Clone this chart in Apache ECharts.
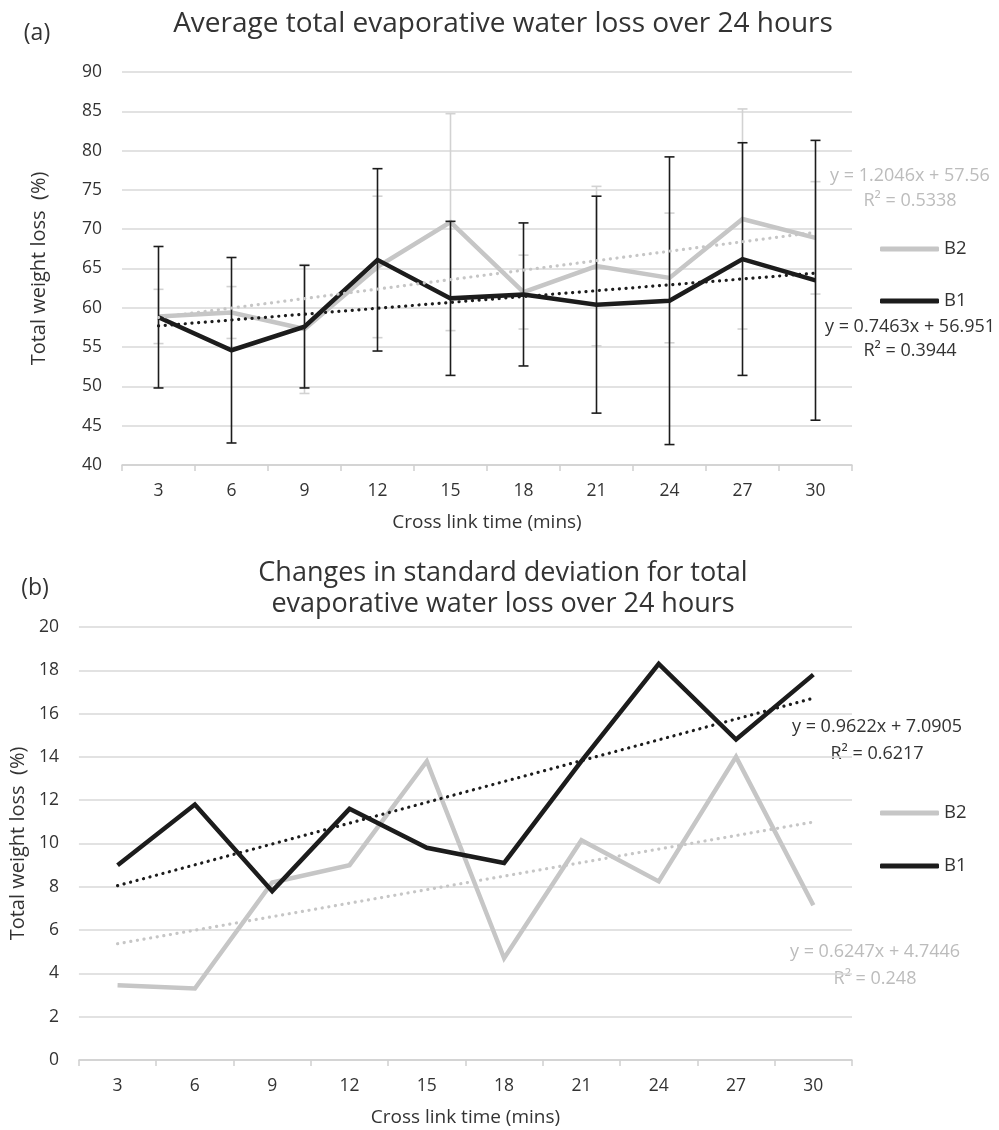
<!DOCTYPE html>
<html>
<head>
<meta charset="utf-8">
<title>Evaporative water loss</title>
<script src="https://cdn.jsdelivr.net/npm/echarts@6/dist/echarts.min.js"></script>
<style>
  html, body { margin: 0; padding: 0; background: #ffffff; }
  #chart { width: 999px; height: 1130px; }
</style>
</head>
<body>
<div id="chart"></div>
<script>
// Cross-link times (minutes)
const categories = ['3', '6', '9', '12', '15', '18', '21', '24', '27', '30'];

// (a) mean total weight loss (%) after 24 h
const meanB1 = [58.8, 54.6, 57.6, 66.1, 61.2, 61.7, 60.4, 60.9, 66.2, 63.5];
const meanB2 = [58.9, 59.4, 57.3, 65.2, 70.9, 62.0, 65.3, 63.8, 71.3, 68.9];

// (b) standard deviation of total weight loss (%), also used as error bars in (a)
const sdB1 = [9.0, 11.8, 7.8, 11.6, 9.8, 9.1, 13.8, 18.3, 14.8, 17.8];
const sdB2 = [3.45, 3.3, 8.2, 9.0, 13.8, 4.7, 10.15, 8.25, 14.0, 7.15];

// Linear trendlines: [slope, intercept, R²], x = point number 1..10
const fitMeanB1 = [0.7463, 56.951, 0.3944];
const fitMeanB2 = [1.2046, 57.56, 0.5338];
const fitSdB1 = [0.9622, 7.0905, 0.6217];
const fitSdB2 = [0.6247, 4.7446, 0.248];

// Axis ticks: [min, max, interval]
const yTicksA = [40, 90, 5];
const yTicksB = [0, 20, 2];

const FONT = '"Open Sans", "Noto Sans", sans-serif';
const TXT = '#333333';
const GRID_LINE = '#d9d9d9';
const C_B1 = '#1c1c1c';
const C_B2 = '#c6c6c6';
const C_B2_ERR = '#d2d2d2';
const C_B2_TXT = '#bcbcbc';

function trendValues(fit) {
  return categories.map((c, i) => +(fit[0] * (i + 1) + fit[1]).toFixed(4));
}
function equation(fit) {
  return 'y = ' + fit[0] + 'x + ' + fit[1];
}
function rSquared(fit) {
  return 'R\u00b2 = ' + fit[2];
}

function errorBarSeries(name, mean, sd, color, z) {
  return {
    name: name,
    type: 'custom',
    xAxisIndex: 0,
    yAxisIndex: 0,
    z: z,
    silent: true,
    encode: { x: 0, y: [1, 2] },
    data: mean.map((m, i) => [i, m - sd[i], m + sd[i]]),
    renderItem: function (params, api) {
      const idx = api.value(0);
      const hi = api.coord([idx, api.value(2)]);
      const lo = api.coord([idx, api.value(1)]);
      const hw = 5;
      const st = { stroke: color, lineWidth: 1.6 };
      return {
        type: 'group',
        children: [
          { type: 'line', shape: { x1: hi[0], y1: hi[1], x2: lo[0], y2: lo[1] }, style: st },
          { type: 'line', shape: { x1: hi[0] - hw, y1: hi[1], x2: hi[0] + hw, y2: hi[1] }, style: st },
          { type: 'line', shape: { x1: lo[0] - hw, y1: lo[1], x2: lo[0] + hw, y2: lo[1] }, style: st }
        ]
      };
    }
  };
}

function lineSeries(name, data, color, gi, z) {
  return {
    name: name,
    type: 'line',
    xAxisIndex: gi,
    yAxisIndex: gi,
    data: data,
    z: z,
    symbol: 'none',
    lineStyle: { color: color, width: 4.5, join: 'miter' },
    itemStyle: { color: color },
    animation: false
  };
}

function trendSeries(name, fit, color, gi, z) {
  return {
    name: name,
    type: 'line',
    xAxisIndex: gi,
    yAxisIndex: gi,
    data: trendValues(fit),
    z: z,
    symbol: 'none',
    silent: true,
    lineStyle: { color: color, width: 3.2, type: [0.1, 6.6], cap: 'round' },
    animation: false
  };
}

function xAxisDef(gi) {
  return {
    type: 'category',
    gridIndex: gi,
    data: categories,
    boundaryGap: true,
    axisLine: { show: true, lineStyle: { color: '#d0d0d0', width: 1.5 } },
    axisTick: { show: true, length: 6, interval: 0, lineStyle: { color: '#d0d0d0', width: 1.5 } },
    axisLabel: { color: TXT, fontSize: 17.5, fontFamily: FONT, margin: 17, interval: 0 },
    splitLine: { show: false },
    name: 'Cross link time (mins)',
    nameLocation: 'middle',
    nameGap: 48,
    nameTextStyle: { color: TXT, fontSize: 19, fontFamily: FONT }
  };
}

function yAxisDef(gi, ticks, nameGap) {
  return {
    type: 'value',
    gridIndex: gi,
    min: ticks[0],
    max: ticks[1],
    interval: ticks[2],
    axisLine: { show: false },
    axisTick: { show: false },
    axisLabel: { color: TXT, fontSize: 17.5, fontFamily: FONT, margin: 20 },
    splitLine: { show: true, lineStyle: { color: GRID_LINE, width: 1.5 } },
    name: 'Total weight loss  (%)',
    nameLocation: 'middle',
    nameGap: nameGap,
    nameRotate: 90,
    nameTextStyle: { color: TXT, fontSize: 20, fontFamily: FONT }
  };
}

function legendDef(top, gap) {
  return {
    orient: 'vertical',
    left: 875,
    top: top,
    itemGap: gap,
    itemWidth: 59,
    itemHeight: 5,
    icon: 'roundRect',
    selectedMode: false,
    data: ['B2', 'B1'],
    textStyle: { color: TXT, fontSize: 18.5, fontFamily: FONT, lineHeight: 20 }
  };
}

function label(text, x, y, size, color) {
  return {
    type: 'text',
    x: x,
    y: y,
    silent: true,
    style: {
      text: text,
      fill: color,
      font: size + 'px ' + FONT,
      align: 'center',
      verticalAlign: 'middle'
    }
  };
}

const chart = echarts.init(document.getElementById('chart'), null, { renderer: 'canvas' });

const option = {
  backgroundColor: '#ffffff',
  animation: false,
  grid: [
    { left: 122, top: 72, width: 730, height: 393 },
    { left: 78, top: 627, width: 774, height: 433 }
  ],
  xAxis: [xAxisDef(0), xAxisDef(1)],
  yAxis: [yAxisDef(0, yTicksA, 73), yAxisDef(1, yTicksB, 43)],
  legend: [legendDef(234, 32), legendDef(798, 33)],
  series: [
    // (a) averages with ±SD error bars
    errorBarSeries('B2 SD', meanB2, sdB2, C_B2_ERR, 1),
    lineSeries('B2', meanB2, C_B2, 0, 2),
    lineSeries('B1', meanB1, C_B1, 0, 3),
    errorBarSeries('B1 SD', meanB1, sdB1, C_B1, 4),
    trendSeries('B2 trend', fitMeanB2, C_B2, 0, 5),
    trendSeries('B1 trend', fitMeanB1, C_B1, 0, 6),
    // (b) standard deviations
    lineSeries('B2', sdB2, C_B2, 1, 2),
    lineSeries('B1', sdB1, C_B1, 1, 3),
    trendSeries('B2 trend', fitSdB2, C_B2, 1, 5),
    trendSeries('B1 trend', fitSdB1, C_B1, 1, 6)
  ],
  graphic: [
    label('(a)', 37, 33, 23, TXT),
    label('Average total evaporative water loss over 24 hours', 503, 24, 28, TXT),
    label('(b)', 35, 588, 23, TXT),
    label('Changes in standard deviation for total', 503, 573, 27, TXT),
    label('evaporative water loss over 24 hours', 503, 604, 27, TXT),
    label(equation(fitMeanB2), 910, 176, 18, C_B2_TXT),
    label(rSquared(fitMeanB2), 910, 201, 18, C_B2_TXT),
    label(equation(fitMeanB1), 910, 327, 18, TXT),
    label(rSquared(fitMeanB1), 910, 351, 18, TXT),
    label(equation(fitSdB1), 877, 727, 18, TXT),
    label(rSquared(fitSdB1), 877, 754, 18, TXT),
    label(equation(fitSdB2), 875, 952, 18, C_B2_TXT),
    label(rSquared(fitSdB2), 875, 979, 18, C_B2_TXT)
  ]
};

chart.setOption(option);
</script>
</body>
</html>
